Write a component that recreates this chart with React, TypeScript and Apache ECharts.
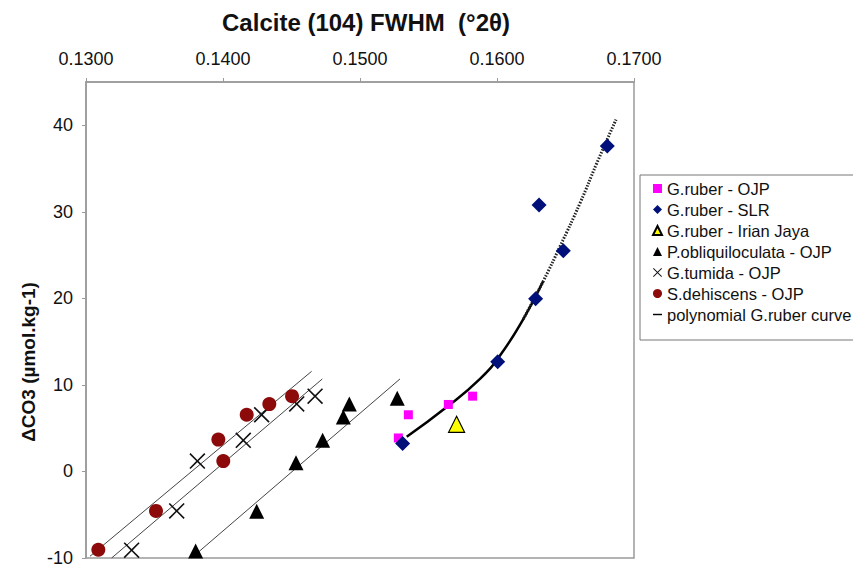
import React, { useEffect, useRef } from "react";
import * as echarts from "echarts";

// Axis ranges / ticks
const xMin = 0.13;
const xMax = 0.17;
const xStep = 0.01;
const yMin = -10;
const yMax = 45;
const yStep = 10;

// Series values [FWHM, ΔCO3]
const gruberOJP = [[0.15353, 6.55], [0.1528, 3.87], [0.15645, 7.74], [0.15822, 8.7]];
const gruberSLR = [[0.15311, 3.22], [0.16005, 12.68], [0.16282, 19.96], [0.16307, 30.8], [0.16484, 25.5], [0.16805, 37.6]];
const gruberIrian = [[0.15705, 5.45]];
const obliquiOJP = [[0.138, -9.2], [0.14246, -4.6], [0.14533, 1.0], [0.14727, 3.6], [0.14878, 6.3], [0.14922, 7.8], [0.15272, 8.47]];
const tumidaOJP = [[0.13333, -9.1], [0.13662, -4.56], [0.13813, 1.2], [0.14148, 3.6], [0.14282, 6.55], [0.14538, 7.8], [0.14672, 8.7]];
const dehiscensOJP = [[0.1309, -9.05], [0.13511, -4.56], [0.13966, 3.68], [0.14002, 1.2], [0.14173, 6.55], [0.14338, 7.78], [0.14504, 8.7]];

// Linear fit lines (end points)
const dehiscensFit = [[0.13029, -9.8], [0.14647, 11.57]];
const tumidaFit = [[0.13187, -10], [0.14725, 10.69]];
const obliquiFit = [[0.1377, -10], [0.15292, 10.69]];

// Polynomial G.ruber curve
const curveSolid = [[0.15341, 4.0], [0.15633, 7.44], [0.15876, 10.7], [0.16022, 13.4], [0.16192, 17.6], [0.16338, 22.0]];
const curveDotted = [[0.16192, 17.6], [0.16338, 22.0], [0.1646, 26.0], [0.16606, 31.0], [0.16728, 35.6], [0.16869, 40.66]];

const names = [
  "G.ruber - OJP",
  "G.ruber - SLR",
  "G.ruber - Irian Jaya",
  "P.obliquiloculata - OJP",
  "G.tumida - OJP",
  "S.dehiscens - OJP",
  "polynomial G.ruber curve",
];

const FONT = "'Liberation Sans', Arial, Helvetica, sans-serif";
const CROSS =
  "path://M0,1 L1,0 L7,6 L13,0 L14,1 L8,7 L14,13 L13,14 L7,8 L1,14 L0,13 L6,7 Z";
const DASH = "path://M0,0 L10,0 L10,1.6 L0,1.6 Z";

export default function App() {
  const ref = useRef<HTMLDivElement>(null);
  useEffect(() => {
    if (!ref.current) return;
    const chart = echarts.init(ref.current, null, { renderer: "svg" });
    const fitLine = (data: number[][]) => ({
      type: "line",
      data,
      symbol: "none",
      lineStyle: { color: "#444", width: 1 },
      silent: true,
      z: 1,
    });
    chart.setOption({
      animation: false,
      backgroundColor: "#fff",
      grid: {
        left: 86,
        right: 219,
        top: 82,
        bottom: 7,
        show: true,
        borderColor: "#9a9a9a",
        borderWidth: 1.5,
      },
      xAxis: {
        type: "value",
        position: "top",
        min: xMin,
        max: xMax,
        interval: xStep,
        axisLine: { show: true, onZero: false, lineStyle: { color: "#9a9a9a", width: 1.5 } },
        axisTick: { show: true, inside: false, length: 4, lineStyle: { color: "#9a9a9a" } },
        splitLine: { show: false },
        axisLabel: {
          margin: 14,
          fontSize: 18,
          color: "#111",
          fontFamily: FONT,
          formatter: (v: number) => v.toFixed(4),
        },
      },
      yAxis: {
        type: "value",
        min: yMin,
        max: yMax,
        interval: yStep,
        axisLine: { show: true, onZero: false, lineStyle: { color: "#9a9a9a", width: 1.5 } },
        axisTick: { show: true, inside: false, length: 4, lineStyle: { color: "#9a9a9a" } },
        splitLine: { show: false },
        axisLabel: {
          margin: 13,
          fontSize: 18,
          color: "#111",
          fontFamily: FONT,
          showMaxLabel: false,
        },
      },
      legend: {
        left: 640,
        top: 175,
        orient: "vertical",
        selectedMode: false,
        padding: [5, 22, 17, 12],
        itemGap: 4,
        itemWidth: 9,
        itemHeight: 9,
        borderColor: "#777",
        borderWidth: 1,
        textStyle: { fontSize: 16.5, color: "#111", fontFamily: FONT },
        data: [
          { name: names[0], icon: "rect" },
          { name: names[1], icon: "diamond" },
          { name: names[2], icon: "triangle" },
          { name: names[3], icon: "triangle" },
          { name: names[4], icon: CROSS },
          { name: names[5], icon: "circle" },
          { name: names[6], icon: DASH, itemStyle: { borderWidth: 0 } },
        ],
      },
      graphic: [
        {
          type: "text",
          x: 366,
          y: 22,
          style: {
            text: "Calcite (104) FWHM  (°2θ)",
            fontSize: 24,
            fontWeight: "bold",
            fontFamily: FONT,
            fill: "#111",
            textAlign: "center",
            textVerticalAlign: "middle",
          },
        },
        {
          type: "text",
          x: 28,
          y: 362,
          rotation: Math.PI / 2,
          style: {
            text: "ΔCO3 (µmol.kg-1)",
            fontSize: 19,
            fontWeight: "bold",
            fontFamily: FONT,
            fill: "#111",
            textAlign: "center",
            textVerticalAlign: "middle",
          },
        },
      ],
      series: [
        fitLine(dehiscensFit),
        fitLine(tumidaFit),
        fitLine(obliquiFit),
        {
          name: names[6],
          type: "line",
          data: curveSolid,
          smooth: true,
          symbol: "none",
          itemStyle: { color: "#000" },
          lineStyle: { color: "#000", width: 2.5 },
          z: 2,
        },
        {
          type: "line",
          data: curveDotted,
          smooth: true,
          symbol: "none",
          lineStyle: { color: "#222", width: 3, type: [1.5, 1.5] },
          z: 2,
        },
        {
          name: names[0],
          type: "scatter",
          data: gruberOJP,
          symbol: "rect",
          symbolSize: 9,
          itemStyle: { color: "#ff00ff", opacity: 1 },
          z: 3,
        },
        {
          name: names[1],
          type: "scatter",
          data: gruberSLR,
          symbol: "diamond",
          symbolSize: 15,
          itemStyle: { color: "#00107a", opacity: 1 },
          z: 4,
        },
        {
          name: names[2],
          type: "scatter",
          data: gruberIrian,
          symbol: "triangle",
          symbolSize: 16,
          itemStyle: { color: "#ffff00", borderColor: "#000", borderWidth: 1.2, opacity: 1 },
          z: 4,
        },
        {
          name: names[3],
          type: "scatter",
          data: obliquiOJP,
          symbol: "triangle",
          symbolSize: 15,
          itemStyle: { color: "#000", opacity: 1 },
          z: 3,
        },
        {
          name: names[4],
          type: "scatter",
          data: tumidaOJP,
          symbol: CROSS,
          symbolSize: 16,
          itemStyle: { color: "#111", opacity: 1 },
          z: 3,
        },
        {
          name: names[5],
          type: "scatter",
          data: dehiscensOJP,
          symbol: "circle",
          symbolSize: 14,
          itemStyle: { color: "#8c0a0a", opacity: 1 },
          z: 3,
        },
      ],
    });
    return () => chart.dispose();
  }, []);
  return (
    <div
      ref={ref}
      style={{ position: "fixed", left: 0, top: 0, width: 853, height: 567, background: "#fff" }}
    />
  );
}
